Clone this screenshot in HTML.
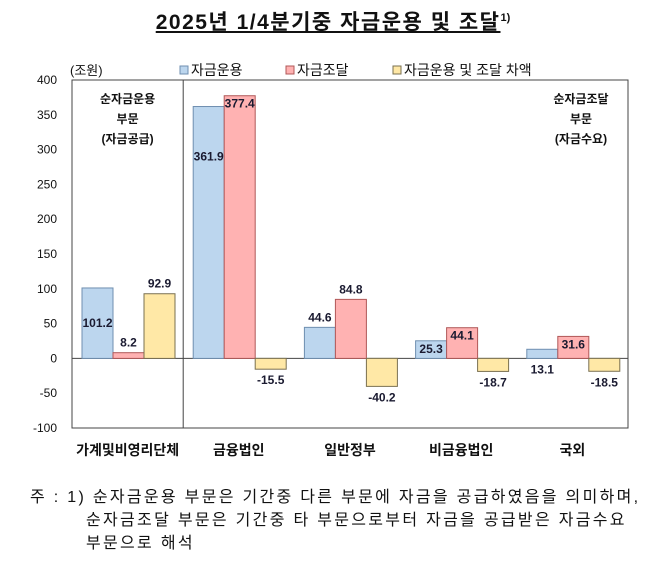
<!DOCTYPE html>
<html><head><meta charset="utf-8">
<style>
body{margin:0;background:#fff;width:666px;height:566px;overflow:hidden;font-family:"Liberation Sans","Noto Sans CJK KR",sans-serif;}
#title{position:absolute;left:0;width:666px;top:6px;text-align:center;font-weight:bold;font-size:21px;letter-spacing:1.5px;color:#111;}
#title span{text-decoration:underline;}
#title sup{font-size:11px;letter-spacing:0;}
.note{position:absolute;font-size:16px;letter-spacing:2.3px;color:#111;white-space:nowrap;}
</style></head><body>
<div id="title"><span>2025년 1/4분기중 자금운용 및 조달</span><sup>1)</sup></div>
<svg id="chart" width="666" height="470" style="position:absolute;left:0;top:0"></svg>
<div class="note" style="left:30px;top:483px">주 : 1) 순자금운용 부문은 기간중 다른 부문에 자금을 공급하였음을 의미하며,</div>
<div class="note" style="left:86px;top:506px">순자금조달 부문은 기간중 타 부문으로부터 자금을 공급받은 자금수요</div>
<div class="note" style="left:86px;top:529px">부문으로 해석</div>
<script>
const categories=["가계및비영리단체","금융법인","일반정부","비금융법인","국외"];
const useVals=[101.2,361.9,44.6,25.3,13.1];
const raiseVals=[8.2,377.4,84.8,44.1,31.6];
const diffVals=[92.9,-15.5,-40.2,-18.7,-18.5];
const yTicks=[400,350,300,250,200,150,100,50,0,-50,-100];
const useLabelMode=["mid","mid2","above","in","below"];
const raiseLabelMode=["above","in","above","in","in"];
const diffLabelMode=["above","below","below","below","below"];

const NS="http://www.w3.org/2000/svg";
const svg=document.getElementById("chart");
const L=72,R=628,T=80,B=428,yMax=400,yMin=-100;
const y=v=>T+(yMax-v)*(B-T)/(yMax-yMin);
const catW=(R-L)/categories.length;
const bw=31;
function mk(tag,attrs){const e=document.createElementNS(NS,tag);for(const k in attrs)e.setAttribute(k,attrs[k]);svg.appendChild(e);return e;}
function txt(x,yy,s,opt){const t=mk("text",Object.assign({x:x,y:yy,"font-size":12,"font-family":'"Liberation Sans","Noto Sans CJK KR",sans-serif',fill:"#111"},opt||{}));t.textContent=s;return t;}

let fr=mk("rect",{x:L,y:T,width:R-L,height:B-T,fill:"none",stroke:"#444","stroke-width":1});


let dv=mk("line",{x1:L+catW,x2:L+catW,y1:T,y2:B,stroke:"#444"});


let zl=mk("line",{x1:L,x2:R,y1:y(0),y2:y(0),stroke:"#444"});



yTicks.forEach(v=>{
  const t=txt(57,y(v)+4,String(v),{"text-anchor":"end","font-size":12});
  
  
});
const u=txt(70,75,"(조원)",{"font-size":13});



const series=[
 {vals:useVals,modes:useLabelMode,fill:"#bcd6ee",stroke:"#6f8fb0",name:"use"},
 {vals:raiseVals,modes:raiseLabelMode,fill:"#ffb2b2",stroke:"#b05858",name:"raise"},
 {vals:diffVals,modes:diffLabelMode,fill:"#ffe8a6",stroke:"#7a7050",name:"diff"}];
categories.forEach((c,i)=>{
  const x0=L+i*catW+10;
  series.forEach((s,j)=>{
    const v=s.vals[i];const bx=x0+j*bw;
    const top=Math.min(y(v),y(0)),h=Math.abs(y(v)-y(0));
    const r=mk("rect",{x:bx,y:top,width:bw,height:Math.max(h,0.5),fill:s.fill,stroke:s.stroke,"stroke-width":1});
    
    
    let ly,m=s.modes[i];
    if(m==="above")ly=y(v)-6;
    else if(m==="below")ly=(v<0?y(v):y(0))+15;
    else if(m==="in")ly=y(v)+12;
    else if(m==="mid")ly=(y(v)+y(0))/2+4;
    else ly=y(v)+54;
    const t=txt(bx+bw/2,ly,v.toFixed(1),{"text-anchor":"middle","font-weight":"bold","fill":"#1a1a30","font-size":12});
    
    
  });
  const cl=txt(L+i*catW+catW/2,455,c,{"text-anchor":"middle","font-weight":"bold","font-size":14});
  
  
});

[["순자금운용",103],["부문",123],["(자금공급)",143]].forEach(a=>{
  const t=txt(L+catW/2,a[1],a[0],{"text-anchor":"middle","font-weight":"bold","font-size":12});
  
  
});
[["순자금조달",103],["부문",123],["(자금수요)",143]].forEach(a=>{
  const t=txt(581,a[1],a[0],{"text-anchor":"middle","font-weight":"bold","font-size":12});
  
  
});

const legend=[["자금운용",180,"#bcd6ee","#6f8fb0"],["자금조달",286,"#ffb2b2","#b05858"],["자금운용 및 조달 차액",393,"#ffe8a6","#7a7050"]];
legend.forEach(l=>{
  const b=mk("rect",{x:l[1],y:66,width:8,height:8,fill:l[2],stroke:l[3]});
  
  
  const t=txt(l[1]+11,75,l[0],{"font-size":14});
  
  
});
</script>
</body></html>
